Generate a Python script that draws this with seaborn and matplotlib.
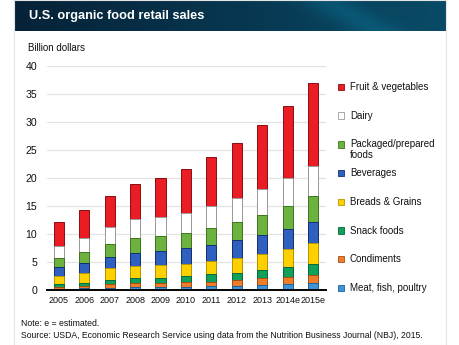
import numpy as np
import pandas as pd
import matplotlib
matplotlib.use("Agg")
import matplotlib.pyplot as plt
from matplotlib.patches import Rectangle
import seaborn as sns

years = ["2005", "2006", "2007", "2008", "2009", "2010", "2011", "2012", "2013", "2014e", "2015e"]
meat = [0.25, 0.3, 0.4, 0.45, 0.5, 0.55, 0.7, 0.77, 0.9, 1.1, 1.2]
condiments = [0.3, 0.35, 0.6, 0.75, 0.75, 0.9, 0.8, 0.95, 1.2, 1.3, 1.55]
snack = [0.6, 0.65, 0.85, 0.95, 0.95, 1.05, 1.3, 1.37, 1.5, 1.65, 1.95]
breads = [1.35, 1.7, 2.0, 2.15, 2.3, 2.2, 2.4, 2.6, 2.9, 3.2, 3.65]
beverages = [1.6, 1.9, 2.1, 2.3, 2.5, 2.75, 2.8, 3.15, 3.3, 3.6, 3.85]
packaged = [1.65, 1.9, 2.3, 2.7, 2.6, 2.65, 3.05, 3.25, 3.55, 4.05, 4.6]
dairy = [2.1, 2.55, 3.0, 3.3, 3.4, 3.7, 3.95, 4.3, 4.7, 5.05, 5.4]
fruit = [4.3, 4.95, 5.6, 6.25, 6.95, 7.8, 8.7, 9.8, 11.3, 12.9, 14.8]

series_names = ["Meat, fish, poultry", "Condiments", "Snack foods", "Breads & Grains",
                "Beverages", "Packaged/prepared\nfoods", "Dairy", "Fruit & vegetables"]
series_vals = [meat, condiments, snack, breads, beverages, packaged, dairy, fruit]
colors = ["#3f93d8", "#ee7d2b", "#10a05a", "#fdd000", "#2f5fbf", "#6cb23e", "#ffffff", "#ea1c24"]
edges = ["#1d5f99", "#a84e10", "#08683a", "#b89500", "#13306e", "#3f7420", "#9a9a9a", "#8a0c10"]

sns.set_theme(style="white")
plt.rcParams['font.family'] = ['Liberation Sans', 'DejaVu Sans']

fig = plt.figure(figsize=(4.6, 3.45), dpi=100)
W, H = 460, 345

# border
fig.patches.append(Rectangle((14 / W, 0), 432 / W, 1, transform=fig.transFigure,
                             facecolor="none", edgecolor="#e4e4e4", lw=0.8, zorder=0))

# Title banner gradient
bax = fig.add_axes([14 / W, 1 - 31 / H, 432 / W, 31 / H])
gx = np.linspace(0, 1, 300)
gy = np.linspace(0, 1, 40)
GX, GY = np.meshgrid(gx, gy)
base = np.clip(GX * 1.0, 0, 1)
swoosh = np.exp(-((GX - 0.72 - 0.12 * GY) ** 2) / 0.004) * 0.35
val = np.clip(base * 0.7 + swoosh, 0, 1)
c0 = np.array([0x06, 0x22, 0x38]) / 255
c1 = np.array([0x0a, 0x5c, 0x7a]) / 255
img = c0[None, None, :] * (1 - val[..., None]) + c1[None, None, :] * val[..., None]
bax.imshow(img, aspect="auto", extent=[0, 1, 0, 1])
bax.set_axis_off()
bax.text(0.035, 0.5, "U.S. organic food retail sales", color="white", fontsize=9.2,
         fontweight="bold", va="center", ha="left", transform=bax.transAxes)

# main axes
x0, x1 = 47, 326
y0p, y40p = 290, 65.7
ax = fig.add_axes([x0 / W, 1 - y0p / H, (x1 - x0) / W, (y0p - y40p) / H])

cum = np.cumsum(np.array(series_vals), axis=0)
df = pd.DataFrame({"year": years})
for i in range(len(series_names) - 1, -1, -1):
    df["v"] = cum[i]
    sns.barplot(data=df, x="year", y="v", color=colors[i], width=0.4,
                edgecolor=edges[i], linewidth=0.7, saturation=1, ax=ax, zorder=3)

ax.set_ylim(0, 40)
ax.set_xlim(-0.47, 10.51)
ax.set_yticks(np.arange(0, 41, 5))
ax.yaxis.grid(True, color="#e3e3e3", lw=0.9, zorder=0)
ax.set_axisbelow(True)
for s in ["top", "right", "left"]:
    ax.spines[s].set_visible(False)
ax.spines["bottom"].set_color("black")
ax.spines["bottom"].set_linewidth(1.4)
ax.spines["bottom"].set_zorder(5)
ax.set_xlabel("")
ax.set_ylabel("")
ax.tick_params(axis="y", labelsize=7.6, length=0, pad=7, colors="#111111")
ax.tick_params(axis="x", labelsize=6.5, length=0, pad=4, colors="#111111")

fig.text(28 / W, 1 - 48 / H, "Billion dollars", fontsize=7.0, va="center", ha="left", color="#111111")

# legend (manual)
leg_names = series_names[::-1]
leg_colors = colors[::-1]
leg_edges = edges[::-1]
leg_y = [86.7, 115.5, 144.5, 173, 202, 230.5, 259, 288]
for name, c, e, yy in zip(leg_names, leg_colors, leg_edges, leg_y):
    fig.patches.append(Rectangle((338 / W, 1 - (yy + 3.2) / H), 6.3 / W, 6.3 / H,
                                 transform=fig.transFigure, facecolor=c,
                                 edgecolor=e if c != "#ffffff" else "#9a9a9a", lw=0.6))
    if "\n" in name:
        fig.text(350 / W, 1 - (yy - 5.5) / H, name, fontsize=7.0, va="top", ha="left",
                 color="#111111", linespacing=1.15)
    else:
        fig.text(350 / W, 1 - yy / H, name, fontsize=7.0, va="center", ha="left", color="#111111")

fig.text(21 / W, 1 - 323 / H, "Note: e = estimated.", fontsize=6.3, va="center", ha="left", color="#111111")
fig.text(21 / W, 1 - 335.5 / H,
         "Source: USDA, Economic Research Service using data from the Nutrition Business Journal (NBJ), 2015.",
         fontsize=6.2, va="center", ha="left", color="#111111")

fig.savefig("out.png", dpi=100)
